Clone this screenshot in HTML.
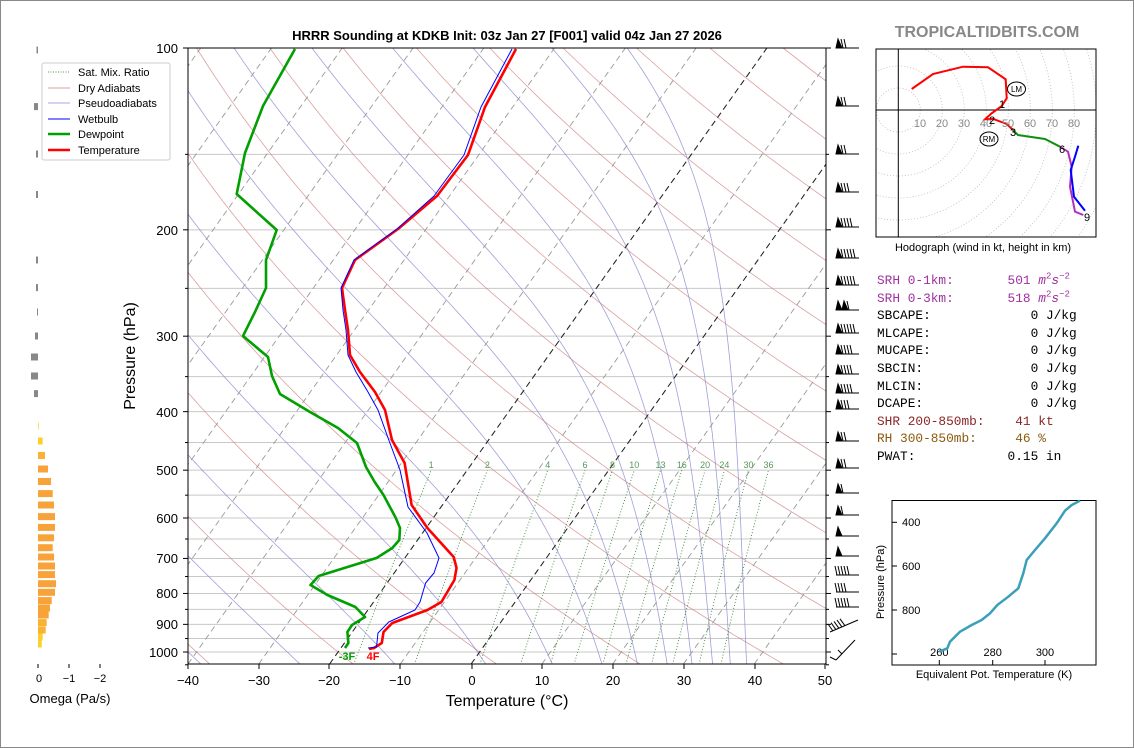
<!DOCTYPE html>
<html><head><meta charset="utf-8">
<style>
html,body{margin:0;padding:0;background:#fff;}
body{width:1134px;height:748px;overflow:hidden;position:relative;font-family:"Liberation Sans","DejaVu Sans",sans-serif;}
#frame{position:absolute;left:0;top:0;width:1132px;height:746px;border:1px solid #888;}
svg{position:absolute;left:0;top:0;}
pre{position:absolute;left:877px;top:272px;margin:0;font-family:"Liberation Mono","DejaVu Sans Mono",monospace;font-size:12.8px;line-height:17.6px;color:#000;}
.pu{color:#a030a0}.sh{color:#8b2525}.rh{color:#8b5a10}
sup{font-size:9px;line-height:0}
</style></head><body>
<div id="frame"></div>
<svg id="s" width="1134" height="748" xmlns="http://www.w3.org/2000/svg" font-family="Liberation Sans, DejaVu Sans, sans-serif">
<defs><clipPath id="cp"><rect x="188" y="48" width="638" height="616"/></clipPath>
<clipPath id="ch"><rect x="876" y="49" width="220" height="188"/></clipPath></defs>
<g id="bg" clip-path="url(#cp)"></g>
<g id="prof" clip-path="url(#cp)" fill="none" stroke-linejoin="round">
<polyline stroke="#00a000" stroke-width="2.6" points="295,49 263,106 245,153 236.7,194 276.7,230 266,260 266,288 255,312 243,336 268,357 272,376 280,394 310,412 338,428 357,443 366,467 374.7,482 383.5,495 395.8,518 400,528 399.3,540 392.3,548 376.5,558 318.6,576 310.5,585 327.4,595 355.4,607 365,617 352,625 347.4,632 348.4,643 345,648"/>
<polyline stroke="#ff0000" stroke-width="2.6" points="516,49 485,107 468,155 437,196 398,229 355,260 342,288 345,310 348,330 350,355 360,372 375,392 385,410 392,440 404.6,463 411.6,505 427.4,528 453.7,557 456.5,568 454.4,580 441.4,602 427.4,610 392.3,623 383.5,632 381.8,643 374,648 369,649"/>
<polyline stroke="#0000ff" stroke-width="1" points="512,49 481,107 464,155 434,196 397,229 354,260 341,288 343,310 346,330 348,355 356,372 368,392 378,410 388.8,440 400,470 408,507 427,533 439,558 434,573 425.6,583 420,602 415,610 388.8,622 378,633 376.5,647 368,648"/>
</g>
<rect x="188" y="48" width="638" height="616" fill="none" stroke="#000" stroke-width="1"/>
<g id="ticks" stroke="#000" stroke-width="1"></g>
<g font-size="13" text-anchor="end" id="plab">
<text x="178" y="53">100</text><text x="178" y="235">200</text><text x="178" y="341">300</text><text x="178" y="417">400</text><text x="178" y="475">500</text><text x="178" y="523">600</text><text x="178" y="563">700</text><text x="178" y="598">800</text><text x="178" y="629">900</text><text x="178" y="657">1000</text>
</g>
<g font-size="13" text-anchor="middle">
<text x="188" y="685">−40</text><text x="259" y="685">−30</text><text x="329" y="685">−20</text><text x="400" y="685">−10</text><text x="472" y="685">0</text><text x="542" y="685">10</text><text x="613" y="685">20</text><text x="684" y="685">30</text><text x="755" y="685">40</text><text x="825" y="685">50</text>
</g>
<text x="507" y="706" font-size="16" text-anchor="middle">Temperature (°C)</text>
<text transform="translate(135,356) rotate(-90)" font-size="16" text-anchor="middle">Pressure (hPa)</text>
<text x="507" y="40" font-size="13" font-weight="bold" text-anchor="middle">HRRR Sounding at KDKB Init: 03z Jan 27 [F001] valid 04z Jan 27 2026</text>
<text x="347" y="660" font-size="11" font-weight="bold" fill="#00a000" text-anchor="middle">-3F</text>
<text x="373" y="660" font-size="11" font-weight="bold" fill="#ff0000" text-anchor="middle">4F</text>
<g id="mrlab" font-size="9" fill="#559955" text-anchor="middle"></g>
<rect x="42" y="63" width="128" height="97" fill="#fff" stroke="#ccc" rx="2"/>
<g stroke-width="1">
<line x1="48" y1="72" x2="70" y2="72" stroke="#449944" stroke-dasharray="1,1.5"/>
<line x1="48" y1="88" x2="70" y2="88" stroke="#d8a0a0"/>
<line x1="48" y1="103" x2="70" y2="103" stroke="#a8a8e0"/>
<line x1="48" y1="119" x2="70" y2="119" stroke="#0000ff"/>
<line x1="48" y1="134" x2="70" y2="134" stroke="#00a000" stroke-width="2.5"/>
<line x1="48" y1="150" x2="70" y2="150" stroke="#ff0000" stroke-width="2.5"/>
</g>
<g font-size="11">
<text x="78" y="76">Sat. Mix. Ratio</text><text x="78" y="92">Dry Adiabats</text><text x="78" y="107">Pseudoadiabats</text><text x="78" y="123">Wetbulb</text><text x="78" y="138">Dewpoint</text><text x="78" y="154">Temperature</text>
</g>
<g id="om"></g>
<g stroke="#000"><line x1="38" y1="664" x2="38" y2="668"/><line x1="69" y1="664" x2="69" y2="668"/><line x1="100" y1="664" x2="100" y2="668"/></g>
<g font-size="11" text-anchor="middle"><text x="39" y="682">0</text><text x="69" y="682">−1</text><text x="100" y="682">−2</text></g>
<text x="70" y="703" font-size="13" text-anchor="middle">Omega (Pa/s)</text>
<g id="barbs" stroke="#000" stroke-width="1" fill="#000"></g>
<text x="987" y="37" font-size="16" font-weight="bold" fill="#888" text-anchor="middle">TROPICALTIDBITS.COM</text>
<g clip-path="url(#ch)" id="hod" fill="none"></g>
<g clip-path="url(#ch)">
<line x1="876" y1="110" x2="1096" y2="110" stroke="#000"/>
<line x1="898.3" y1="49" x2="898.3" y2="237" stroke="#000"/>
<g fill="none" stroke-width="2">
<polyline stroke="#ff0000" points="911.7,89 933,74 963,66.7 988,67.3 1005.7,79.3 1006.7,98.3 1001.7,106 991.7,113.3 985,119.3 993.3,119 1006.7,124 1013,130"/>
<polyline stroke="#109010" points="1013,130 1018,135 1045,139 1060,146.7"/>
<polyline stroke="#b030c0" points="1060,146.7 1068,151.7 1071.7,166.7 1070,186.7 1075,211.7 1083.3,215"/>
<polyline stroke="#0000ff" points="1078.3,145.7 1075,156.7 1070.7,170 1074,196.7 1085,210.7"/>
</g>
<g font-size="11" fill="#888" text-anchor="middle">
<text x="920" y="127">10</text><text x="942" y="127">20</text><text x="964" y="127">30</text><text x="986" y="127">40</text><text x="1008" y="127">50</text><text x="1030" y="127">60</text><text x="1052" y="127">70</text><text x="1074" y="127">80</text>
</g>
<g font-size="11" fill="#000" text-anchor="middle">
<text x="1002" y="108">1</text><text x="992" y="124">2</text><text x="1013" y="136">3</text><text x="1062" y="153">6</text><text x="1087" y="221">9</text>
</g>
<ellipse cx="1016.5" cy="89" rx="9" ry="7" fill="none" stroke="#000"/><text x="1016.5" y="92" font-size="8" text-anchor="middle">LM</text>
<ellipse cx="989" cy="139" rx="9" ry="7" fill="none" stroke="#000"/><text x="989" y="142" font-size="8" text-anchor="middle">RM</text>
</g>
<rect x="876" y="49" width="220" height="188" fill="none" stroke="#000"/>
<text x="983" y="251" font-size="11" text-anchor="middle">Hodograph (wind in kt, height in km)</text>
<rect x="892" y="500.5" width="204" height="164.5" fill="none" stroke="#000"/>
<g stroke="#000"><line x1="892" y1="522.3" x2="897" y2="522.3"/><line x1="892" y1="566" x2="897" y2="566"/><line x1="892" y1="610" x2="897" y2="610"/><line x1="892" y1="654" x2="897" y2="654"/>
<line x1="939.3" y1="665" x2="939.3" y2="660"/><line x1="992.7" y1="665" x2="992.7" y2="660"/><line x1="1045" y1="665" x2="1045" y2="660"/></g>
<g font-size="11" text-anchor="start"><text x="902" y="526">400</text><text x="902" y="570">600</text><text x="902" y="614">800</text></g>
<g font-size="11" text-anchor="middle"><text x="939.3" y="656">260</text><text x="992.7" y="656">280</text><text x="1045" y="656">300</text></g>
<polyline fill="none" stroke="#3a9fb8" stroke-width="2.5" points="939.3,651.7 947.3,648.3 950,641.7 960,631.7 971.7,625 981.7,620 990,613.3 997.3,605 1008.3,596.7 1018.3,588.3 1023.3,573.3 1026.7,560 1035,550 1045,538.3 1056.7,523.3 1065,510.7 1071.7,505 1080,500.7"/>
<text transform="translate(884,582) rotate(-90)" font-size="11" text-anchor="middle">Pressure (hPa)</text>
<text x="994" y="678" font-size="11" text-anchor="middle">Equivalent Pot. Temperature (K)</text>
</svg>
<pre><span class="pu">SRH 0-1km:       501 <i>m</i><sup>2</sup><i>s</i><sup>−2</sup></span>
<span class="pu">SRH 0-3km:       518 <i>m</i><sup>2</sup><i>s</i><sup>−2</sup></span>
SBCAPE:             0 J/kg
MLCAPE:             0 J/kg
MUCAPE:             0 J/kg
SBCIN:              0 J/kg
MLCIN:              0 J/kg
DCAPE:              0 J/kg
<span class="sh">SHR 200-850mb:    41 kt</span>
<span class="rh">RH 300-850mb:     46 %</span>
PWAT:            0.15 in</pre>
<script>
(function(){
var NS="http://www.w3.org/2000/svg";
function el(p,t,a){var e=document.createElementNS(NS,t);for(var k in a)e.setAttribute(k,a[k]);p.appendChild(e);return e;}
function py(p){return 48+Math.log10(p/100)*604;}
function tx(T,y){return 188+(T+40)*7.078+(664-y)*0.71;}
var bg=document.getElementById('bg');
for(var p=100;p<=1050;p+=50){var y=py(p);el(bg,'line',{x1:188,y1:y,x2:826,y2:y,stroke:'#c8c8c8','stroke-width':1});}
function poly(pts,attrs){attrs.points=pts.map(function(a){return a[0].toFixed(1)+','+a[1].toFixed(1)}).join(' ');attrs.fill='none';return el(bg,'polyline',attrs);}
var ps=[];for(var p=1060;p>=95;p-=10)ps.push(p);
for(var t=-40;t<=260;t+=20){var th=t+273.15;poly(ps.map(function(p){var T=th*Math.pow(p/1000,0.2857)-273.15;var y=py(p);return [tx(T,y),y];}),{stroke:'#d08080','stroke-width':0.8,'stroke-opacity':0.75});}
function es(Tc){return 6.112*Math.exp(17.67*Tc/(Tc+243.5));}
function dTdlnp(T,p){var Tc=T-273.15;var e=es(Tc);var rs=0.622*e/(p-e);return (287*T+2.5e6*rs)/(1005+(2.5e6*2.5e6*rs*0.622)/(287*T*T));}
[-38,-24,-10.6,2.2,11.6,18.6,23.6,27.8,31.3,34.2,36.7,39].forEach(function(t0){
 var up=[],T=t0+273.15,p=1050;up.push([p,T]);
 while(p>100){var dp=-5;var k=dTdlnp(T,p);T+=k*Math.log((p+dp)/p);p+=dp;up.push([p,T]);}
 poly(up.map(function(a){var y=py(a[0]);return [tx(a[1]-273.15,y),y];}),{stroke:'#8080cc','stroke-width':0.8,'stroke-opacity':0.75});
});
for(var t=-130;t<=50;t+=10){el(bg,'line',{x1:tx(t,664),y1:664,x2:tx(t,48),y2:48,stroke:'#999','stroke-width':0.9,'stroke-dasharray':'6,4'});}
[0,-20].forEach(function(t){el(bg,'line',{x1:tx(t,664),y1:664,x2:tx(t,48),y2:48,stroke:'#222','stroke-width':1,'stroke-dasharray':'6,4'});});
var lab=document.getElementById('mrlab');
[1,2,4,6,8,10,13,16,20,24,30,36].forEach(function(w){
 var pts=[];for(var p=1060;p>=500;p-=10){var e=w*p/(622+w);var l=Math.log(e/6.112);var Td=243.5*l/(17.67-l);var y=py(p);pts.push([tx(Td,y),y]);}
 poly(pts,{stroke:'#3a8a3a','stroke-width':0.9,'stroke-dasharray':'1,2'});
 var t=document.createElementNS(NS,'text');t.setAttribute('x',pts[pts.length-1][0].toFixed(1));t.setAttribute('y',468);t.textContent=String(w);lab.appendChild(t);
});
var tk=document.getElementById('ticks');
for(var p=100;p<=1000;p+=100){var y=py(p);el(tk,'line',{x1:183,y1:y,x2:188,y2:y});el(tk,'line',{x1:826,y1:y,x2:831,y2:y});}
for(var p=150;p<=1050;p+=100){var y=py(p);el(tk,'line',{x1:185,y1:y,x2:188,y2:y});el(tk,'line',{x1:826,y1:y,x2:829,y2:y});}
[188,259,329,400,472,542,613,684,755,825].forEach(function(x){el(tk,'line',{x1:x,y1:664,x2:x,y2:669});});
var om=document.getElementById('om');
var ob=[[426,38.7],[441,42.7],[455.5,45],[469,48],[481.5,51],[493.6,52.7],[505,54],[516.6,55],[527.4,55],[537.8,54],[547.7,52.7],[557,54],[566,55],[574.6,55],[583.7,56],[592.3,55],[600.6,51.7],[608,50],[615,48.7],[622.6,46.7],[630,45.7],[637,42.7],[644,41.7]];
ob.forEach(function(b){var w=b[1]-38;var c=w<5?'#fbd02e':(w<9?'#fbb232':'#f7a33a');el(om,'rect',{x:38,y:b[0]-3.5,width:w,height:7,fill:c});});
[[50,1.5],[106.6,4],[154,2],[194.5,2],[260,2],[287.6,2],[312,1],[336,3],[357,7],[376,7],[393.6,4]].forEach(function(b){el(om,'rect',{x:38-b[1],y:b[0]-3.5,width:b[1],height:7,fill:'#888'});});
var bb=document.getElementById('barbs');
var B=[[44,1,2],[102,1,2],[150,1,2],[188,1,3],[223,1,4],[254,1,5],[281,1,5],[306,2,1],[329,1,5],[350,1,4],[370,1,4],[389,1,4],[405,1,3],[437,1,2],[464,1,2],[489,1,1],[511,1,1],[532,1,0],[552,1,0],[571,0,5],[588,0,4],[603,0,5]];
B.forEach(function(b){var y=b[0]+4,x=836;
 el(bb,'line',{x1:836,y1:y,x2:859,y2:y});
 for(var i=0;i<b[1];i++){el(bb,'polygon',{points:x+','+y+' '+(x+2)+','+(y-9)+' '+(x+6)+','+y});x+=6;}
 for(var i=0;i<b[2];i++){el(bb,'line',{x1:x+1,y1:y,x2:x-1,y2:y-9});x+=3;}
});
el(bb,'line',{x1:830,y1:632,x2:858,y2:620});
for(var i=0;i<5;i++)el(bb,'line',{x1:833+i*3,y1:631-i*1.3,x2:828+i*3,y2:624-i*1.3});
el(bb,'line',{x1:836,y1:660,x2:855,y2:640});el(bb,'line',{x1:836,y1:660,x2:830,y2:657});el(bb,'line',{x1:842,y1:654,x2:838,y2:650});
var hod=document.getElementById('hod');
for(var r=1;r<=12;r++)el(hod,'circle',{cx:898.3,cy:110,r:r*22,stroke:'#bbb','stroke-width':0.8,'stroke-dasharray':'1,2'});
})();
</script>
</body></html>
